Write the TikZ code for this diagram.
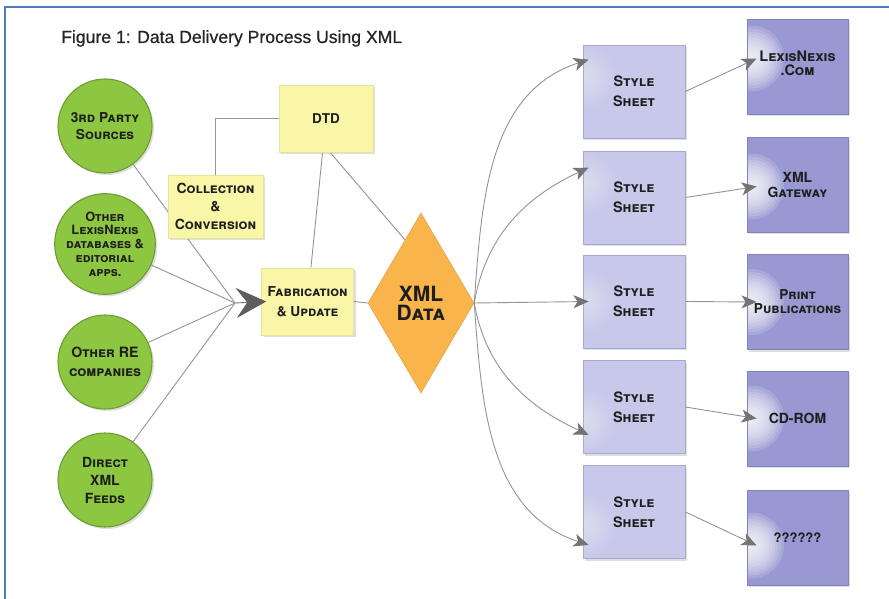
\documentclass[tikz,border=0pt]{standalone}
\usepackage{fontspec}
\setmainfont{Liberation Sans}
\newfontfamily\titlefont[FakeBold=0.7]{Liberation Sans}
\newfontfamily\scf{TeX Gyre Heros}
\usetikzlibrary{shapes.geometric,arrows.meta,shadows,calc,backgrounds}
\definecolor{framec}{HTML}{4A7DBA}
\definecolor{titlec}{HTML}{262626}
\definecolor{txt}{HTML}{1E1E1E}
\definecolor{grn}{HTML}{8DC641}
\definecolor{grnb}{HTML}{6E9C32}
\definecolor{yel}{HTML}{FAF6A8}
\definecolor{yelb}{HTML}{E9E29A}
\definecolor{org}{HTML}{F9B44B}
\definecolor{stc}{HTML}{C8C8EA}
\definecolor{stb}{HTML}{A8A8CE}
\definecolor{outc}{HTML}{9898D2}
\definecolor{outb}{HTML}{8282BC}
\definecolor{linec}{HTML}{939393}
\definecolor{tipc}{HTML}{737373}
\definecolor{bigtip}{HTML}{5E5E5E}
\begin{document}
\begin{tikzpicture}[x=1pt,y=1pt,
  lbl/.style={font=\scf\bfseries\scshape\fontsize{14}{18}\selectfont, text=txt, align=center},
  shad/.style={drop shadow={shadow xshift=2pt, shadow yshift=-2pt, opacity=0.25}},
  circ/.style={circle, draw=grnb, line width=1.1pt, fill=grn, minimum size=94pt, inner sep=0pt, lbl, shad},
  ybox/.style={rectangle, draw=yelb, line width=0.6pt, fill=yel, inner sep=0pt, lbl, shad},
  stbox/.style={rectangle, draw=stb, line width=0.8pt, fill=stc, minimum width=102pt, minimum height=93pt, inner sep=0pt, lbl, shad,
     font=\scf\bfseries\scshape\fontsize{14.4}{20}\selectfont,
     path picture={\foreach \r in {30,27,...,3}{\fill[white,opacity=0.05] ([xshift=2pt,yshift=#1]path picture bounding box.west) circle (\r pt);}}},
  stbox/.default=0pt,
  obox/.style={rectangle, draw=outb, line width=0.8pt, fill=outc, minimum width=101pt, minimum height=95pt, inner sep=0pt, lbl, shad,
     path picture={\foreach \r in {33,30,...,3}{\fill[white,opacity=0.15] ([xshift=4pt,yshift=#1]path picture bounding box.west) circle (\r pt);}}},
  obox/.default=0pt,
  conn/.style={draw=linec, line width=0.9pt},
  arr/.style={conn, -{Stealth[length=15pt, width=13pt, inset=4pt, color=tipc, fill=tipc]}},
]
\useasboundingbox (0,0) rectangle (889,-599);
\draw[framec, line width=1.5pt] (5,-599) -- (5,-7) -- (889,-7);

\node[anchor=base west, inner sep=0pt, font=\titlefont\fontsize{17.6}{20}\selectfont, text=titlec] (title) at (61,-43) {Figure 1: Data Delivery Process Using XML};

% sources
\node[circ, font=\scf\bfseries\scshape\fontsize{13.7}{17}\selectfont] (c1) at (105,-126) {3rd Party\\Sources};
\node[circ, font=\scf\bfseries\scshape\fontsize{12.8}{13.7}\selectfont] (c2) at (105,-244) {Other\\LexisNexis\\databases \&\\editorial\\apps.};
\node[circ, font=\scf\bfseries\scshape\fontsize{14.2}{19}\selectfont] (c3) at (105,-362) {Other RE\\companies};
\node[circ] (c4) at (105,-480) {Direct\\XML\\Feeds};

% process boxes
\node[ybox, minimum width=95pt, minimum height=63pt] (coll) at (215.5,-206.5) {Collection\\\&\\Conversion};
\node[ybox, minimum width=94pt, minimum height=67pt, font=\scf\bfseries\fontsize{13.5}{16}\selectfont] (dtd) at (326,-118.5) {DTD};
\node[ybox, minimum width=92pt, minimum height=67pt, font=\scf\bfseries\scshape\fontsize{13.7}{20}\selectfont] (fab) at (307.5,-301.5) {Fabrication\\\& Update};
\node[diamond, fill=org, draw=org!90!black, line width=0.5pt, minimum width=106pt, minimum height=180pt, inner sep=0pt,
      font=\scf\bfseries\fontsize{21}{19}\selectfont, text=txt, align=center] (xml) at (421,-303) {XML\\\scshape Data};

\coordinate (conv) at (235,-303);

% style sheets
\node[stbox=14pt] (s1) at (634,-91.5) {Style\\Sheet};
\node[stbox=14pt] (s2) at (634,-197.5) {Style\\Sheet};
\node[stbox] (s3) at (634,-301.5) {Style\\Sheet};
\node[stbox=-14pt] (s4) at (634,-407) {Style\\Sheet};
\node[stbox=-14pt] (s5) at (634,-512) {Style\\Sheet};

% outputs
\node[obox=8pt, font=\scf\bfseries\scshape\fontsize{14.5}{15}\selectfont] (o1) at (797.5,-66.5) {\raisebox{6pt}{\shortstack{LexisNexis\\.Com}}};
\node[obox=-2pt, font=\scf\bfseries\scshape\fontsize{14}{15}\selectfont] (o2) at (797.5,-184.5) {XML\\Gateway};
\node[obox, font=\scf\bfseries\scshape\fontsize{13.6}{14}\selectfont] (o3) at (797.5,-302) {Print\\Publications};
\node[obox] (o4) at (797.5,-418.5) {CD-ROM};
\node[obox=-8pt, font=\scf\bfseries\fontsize{13}{15}\selectfont] (o5) at (797.5,-537.5) {??????};

% left connectors (behind boxes)
\begin{pgfonlayer}{background}
\draw[conn] (c1) -- (conv);
\draw[conn] (c2) -- (conv);
\draw[conn] (c3) -- (conv);
\draw[conn] (c4) -- (conv);
\draw[conn] (dtd.west) -| (coll.north);
\draw[conn] (dtd) -- (fab);
\draw[conn] ([xshift=4pt]dtd.south) -- ($(xml.north)!0.3!(xml.west)$);
\draw[conn] (fab.east) -- (xml.west);
\end{pgfonlayer}

% big arrow into fabrication
\draw[draw=tipc, line width=0.9pt, -{Stealth[length=30pt, width=30pt, inset=11pt, color=bigtip, fill=bigtip]}] (conv) -- ([xshift=5pt]fab.west);

% xml to style sheets
\draw[arr] (xml.east) to[out=86, in=198] ([xshift=6pt,yshift=-15pt]s1.north west);
\draw[arr] (xml.east) to[out=80, in=205] ([xshift=6pt,yshift=-17pt]s2.north west);
\draw[arr] (xml.east) -- ([xshift=6pt]s3.west);
\draw[arr] (xml.east) to[out=-80, in=155] ([xshift=6pt,yshift=19pt]s4.south west);
\draw[arr] (xml.east) to[out=-86, in=162] ([xshift=6pt,yshift=14pt]s5.south west);

% style sheets to outputs
\draw[arr] (s1.east) -- ([xshift=10pt,yshift=8pt]o1.west);
\draw[arr] (s2.east) -- ([xshift=10pt,yshift=-2pt]o2.west);
\draw[arr] (s3.east) -- ([xshift=10pt]o3.west);
\draw[arr] (s4.east) -- ([xshift=10pt]o4.west);
\draw[arr] (s5.east) -- ([xshift=10pt,yshift=-8pt]o5.west);
\end{tikzpicture}
\end{document}
